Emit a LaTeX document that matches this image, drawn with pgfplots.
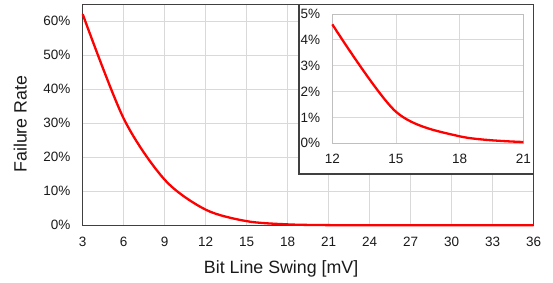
\documentclass[border=0pt]{standalone}
\usepackage{pgfplots}
\pgfplotsset{compat=1.18}
\usepackage{pgfplotstable}
\usepackage{fontspec}
\setmainfont{Liberation Sans}
\definecolor{gridgray}{HTML}{D9D9D9}
\definecolor{axisdark}{HTML}{404040}
\definecolor{insetaxis}{HTML}{BFBFBF}
\definecolor{txt}{HTML}{1A1A1A}

\pgfplotstableread{
x y
3 62.1
6 31.4
9 13.4
12 4.6
15 1.22
18 0.27
21 0.05
24 0.01
27 0
30 0
33 0
36 0
}\maindata

\pgfplotstableread{
x y
12 4.6
15 1.22
18 0.27
21 0.05
}\insetdata

\begin{document}
\begin{tikzpicture}[x=1pt,y=1pt]
\useasboundingbox (0,0) rectangle (553,282);
\begin{axis}[
  at={(82.7pt,56.7pt)}, anchor=south west,
  scale only axis, width=451pt, height=221pt,
  xmin=3, xmax=36, ymin=0, ymax=65,
  xtick={3,6,...,36},
  ytick={0,10,20,30,40,50,60},
  yticklabels={0\%,10\%,20\%,30\%,40\%,50\%,60\%},
  /pgf/number format/assume math mode=true,
  grid=major,
  major grid style={draw=gridgray, line width=0.9pt},
  axis line style={draw=axisdark, line width=1.3pt},
  major tick length=0pt,
  tick label style={font=\fontsize{13.5}{15}\selectfont, text=txt},
  xticklabel style={inner sep=0pt, anchor=north, yshift=-11.4pt},
  yticklabel style={inner sep=0pt, anchor=east, xshift=-12pt},
  xlabel={Bit Line Swing [mV]},
  ylabel={Failure Rate},
  label style={font=\fontsize{17.8}{20}\selectfont, text=txt, inner sep=0pt},
  xlabel style={at={(axis description cs:0.44,-0.2172)}, anchor=base},
  ylabel style={at={(axis description cs:-0.1242,0.4575)}, anchor=base, rotate=0},
  clip=false,
]
\addplot[red, line width=2.3pt, smooth, tension=0.5] table[x=x,y=y] {\maindata};
\end{axis}
\draw[fill=white, draw=axisdark, line width=1.2pt] (299,108) rectangle (533.7,277.7);
\begin{axis}[
  at={(332.3pt,138.7pt)}, anchor=south west,
  scale only axis, width=191pt, height=129.3pt,
  xmin=12, xmax=21, ymin=0, ymax=5,
  xtick={12,15,18,21},
  ytick={0,1,2,3,4,5},
  yticklabels={0\%,1\%,2\%,3\%,4\%,5\%},
  /pgf/number format/assume math mode=true,
  grid=major,
  major grid style={draw=gridgray, line width=0.9pt},
  axis line style={draw=insetaxis, line width=0.9pt},
  major tick length=0pt,
  tick label style={font=\fontsize{13.5}{15}\selectfont, text=txt},
  xticklabel style={inner sep=0pt, anchor=north, yshift=-10.7pt},
  yticklabel style={inner sep=0pt, anchor=east, xshift=-12pt},
  clip=false,
]
\addplot[red, line width=2.3pt, smooth, tension=0.5] table[x=x,y=y] {\insetdata};
\end{axis}
\end{tikzpicture}
\end{document}
